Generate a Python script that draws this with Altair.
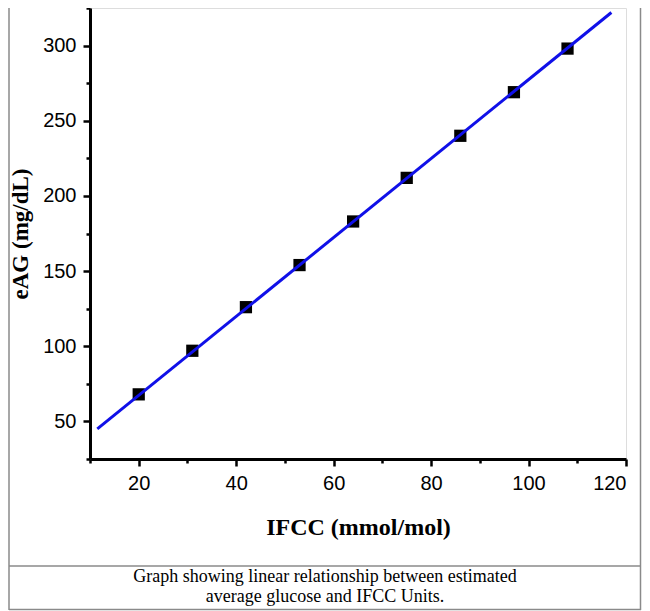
import altair as alt
import pandas as pd

# Data
ifcc = [20, 31, 42, 53, 64, 75, 86, 97, 108]
eag = [68, 97, 126, 154, 183, 212, 240, 269, 298]
fit_x = [11.5, 117]
fit_y = [45, 322]
x_major = list(range(20, 121, 20))
x_minor = list(range(10, 111, 20))
y_major = list(range(50, 301, 50))
y_minor = list(range(25, 326, 50))
caption = ["Graph showing linear relationship between estimated",
           "average glucose and IFCC Units."]

pts = pd.DataFrame({"x": ifcc, "y": eag})
fit = pd.DataFrame({"x": fit_x, "y": fit_y})

W, H = 536, 451

common = dict(grid=False, tickWidth=2.5, tickColor="black", domainColor="black",
              domainWidth=3, labelFont="Liberation Sans", labelFontSize=20,
              labelColor="black", labelPadding=7, labelOverlap=False)

x_axis = alt.Axis(
    values=x_major, tickSize=7, orient="bottom",
    title="IFCC (mmol/mol)", titleFont="Liberation Serif", titleFontSize=24,
    titleFontWeight="bold", titleColor="black", titlePadding=22, **common,
)
y_axis = alt.Axis(
    values=y_major, tickSize=7, orient="left",
    title="eAG (mg/dL)", titleFont="Liberation Serif", titleFontSize=23,
    titleFontWeight="bold", titleColor="black", titlePadding=10, **common,
)
x_axis_minor = alt.Axis(values=x_minor, tickSize=4, orient="bottom", labels=False,
                        domain=False, title=None, grid=False, tickWidth=2.5,
                        tickColor="black")
y_axis_minor = alt.Axis(values=y_minor, tickSize=4, orient="left", labels=False,
                        domain=False, title=None, grid=False, tickWidth=2.5,
                        tickColor="black")

xs = alt.Scale(domain=[10, 120], nice=False, zero=False)
ys = alt.Scale(domain=[25, 325], nice=False, zero=False)

points = alt.Chart(pts).mark_point(shape="square", filled=True, size=150,
                                   color="black", opacity=1).encode(
    x=alt.X("x:Q", scale=xs, axis=x_axis),
    y=alt.Y("y:Q", scale=ys, axis=y_axis),
)
line = alt.Chart(fit).mark_line(color="#1010e8", strokeWidth=3).encode(
    x=alt.X("x:Q", scale=xs, axis=x_axis_minor),
    y=alt.Y("y:Q", scale=ys, axis=y_axis_minor),
)

one = alt.Data(values=[{"a": 1}])
frame_color = "#8a8a8a"
sep = alt.Chart(one).mark_rule(color=frame_color, strokeWidth=1.5).encode(
    x=alt.value(-81), x2=alt.value(551), y=alt.value(558))
bottom = alt.Chart(one).mark_rule(color=frame_color, strokeWidth=1.5).encode(
    x=alt.value(-81), x2=alt.value(551), y=alt.value(601.5))
left = alt.Chart(one).mark_rule(color=frame_color, strokeWidth=1.5).encode(
    x=alt.value(-81), y=alt.value(0), y2=alt.value(602))
right = alt.Chart(one).mark_rule(color=frame_color, strokeWidth=1.5).encode(
    x=alt.value(550.5), y=alt.value(0), y2=alt.value(602))

cap = alt.Chart(one).mark_text(
    text=caption, font="Liberation Serif", fontSize=18, color="black",
    align="center", baseline="alphabetic", lineHeight=19.5,
).encode(x=alt.value(235), y=alt.value(574))

chart = alt.layer(points, line, sep, bottom, left, right, cap).resolve_axis(
    x="independent", y="independent"
).properties(
    width=W, height=H,
    autosize=alt.AutoSizeParams(type="none"),
    padding={"left": 82, "top": 0, "right": 16, "bottom": 152},
).configure_view(strokeWidth=0).configure(background="white")

chart.save("out.html", embed_options={"renderer": "svg", "actions": False})
